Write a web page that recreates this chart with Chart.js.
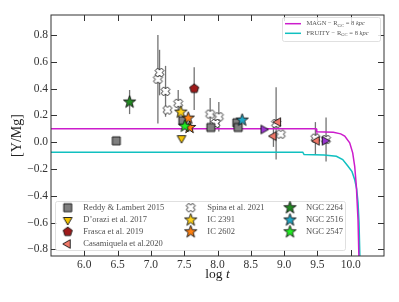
<!DOCTYPE html>
<html>
<head>
<meta charset="utf-8">
<script src="https://cdn.jsdelivr.net/npm/chart.js@4.4.0/dist/chart.umd.min.js"></script>
<style>html,body{margin:0;padding:0;background:#fff}canvas{display:block}</style>
</head>
<body>
<canvas id="chart" width="399" height="302"></canvas>
<script>
// axis ticks
const xTicks = [6.0, 6.5, 7.0, 7.5, 8.0, 8.5, 9.0, 9.5, 10.0];
const yTicks = [-0.8, -0.6, -0.4, -0.2, 0.0, 0.2, 0.4, 0.6, 0.8];

// model curves (log t, [Y/Mg])
const magnLogT = [5.5, 9.48, 9.49, 9.74, 9.85, 9.91, 9.985, 10.03, 10.06, 10.085, 10.11, 10.125];
const magnY = [0.10, 0.10, 0.078, 0.075, 0.062, 0.045, -0.005, -0.08, -0.18, -0.33, -0.58, -0.9];
const fruityLogT = [5.5, 9.28, 9.30, 9.6, 9.785, 9.88, 9.96, 10.02, 10.06, 10.09, 10.11, 10.125, 10.14];
const fruityY = [-0.075, -0.075, -0.092, -0.095, -0.105, -0.13, -0.18, -0.22, -0.28, -0.35, -0.45, -0.6, -0.9];

// observations
const reddyLogT = [6.48, 7.48, 7.90, 8.29, 8.31];
const reddyY = [0.01, 0.16, 0.11, 0.145, 0.11];
const doraziLogT = [7.46];
const doraziY = [0.03];
const frascaLogT = [7.65];
const frascaY = [0.40];
const frascaErr = [0.16];
const casaLogT = [8.91, 8.84, 9.49];
const casaY = [0.15, 0.045, 0.01];
const casaErr = [0, 0.08, 0];
const otherLogT = [8.69, 9.61];
const otherY = [0.095, 0.01];
const spinaLogT = [7.105, 7.13, 7.22, 7.25, 7.41, 7.89, 8.02, 7.97, 8.88, 8.95, 9.47, 9.63];
const spinaY = [0.47, 0.52, 0.38, 0.24, 0.29, 0.21, 0.19, 0.14, 0.14, 0.06, 0.03, 0.02];
const spinaErr = [0.33, 0.17, 0.19, 0, 0.10, 0.12, 0.11, 0, 0.27, 0, 0.12, 0.165];
const ic2391LogT = [7.45];
const ic2391Y = [0.225];
const ic2602LogT = [7.56, 7.58];
const ic2602Y = [0.18, 0.11];
const ngc2264LogT = [6.68];
const ngc2264Y = [0.30];
const ngc2264Err = [0.09];
const ngc2516LogT = [8.37];
const ngc2516Y = [0.165];
const ngc2547LogT = [7.51];
const ngc2547Y = [0.12];

const pts = (xs, ys, es) => xs.map((x, i) => ({ x: x, y: ys[i], e: es ? es[i] : 0 }));

function marker(shape, fill, size, rot) {
  const c = document.createElement('canvas');
  c.width = c.height = Math.ceil(size + 4);
  const g = c.getContext('2d');
  const cx = c.width / 2, cy = c.height / 2, r = size / 2;
  g.beginPath();
  if (shape === 'square') {
    g.rect(cx - r, cy - r, size, size);
  } else if (shape === 'star' || shape === 'pentagon') {
    const n = shape === 'star' ? 10 : 5;
    for (let i = 0; i < n; i++) {
      const a = -Math.PI / 2 + i * 2 * Math.PI / n;
      const rr = (shape === 'star' && i % 2) ? r * 0.4 : r;
      g.lineTo(cx + rr * Math.cos(a), cy + rr * Math.sin(a));
    }
  } else if (shape === 'tri') {
    for (let i = 0; i < 3; i++) {
      const a = (rot - 90) * Math.PI / 180 + i * 2 * Math.PI / 3;
      g.lineTo(cx + r * Math.cos(a), cy + r * Math.sin(a));
    }
  } else if (shape === 'x') {
    const w = r * 0.4, k = Math.SQRT1_2;
    [[-w,-r],[w,-r],[w,-w],[r,-w],[r,w],[w,w],[w,r],[-w,r],[-w,w],[-r,w],[-r,-w],[-w,-w]]
      .forEach(p => g.lineTo(cx + (p[0] - p[1]) * k, cy + (p[0] + p[1]) * k));
  }
  g.closePath();
  g.fillStyle = fill;
  g.fill();
  g.lineWidth = 0.9;
  g.strokeStyle = '#111';
  g.stroke();
  return c;
}

function obs(label, data, style) {
  return { label: label, data: data, pointStyle: style, pointRadius: 5, pointHoverRadius: 5, showLine: false, order: 0 };
}

const datasets = [
  obs('NGC 2547', pts(ngc2547LogT, ngc2547Y), marker('star', '#22ee22', 13)),
  obs('IC 2391', pts(ic2391LogT, ic2391Y), marker('star', '#ffd21a', 13)),
  obs('IC 2602', pts(ic2602LogT, ic2602Y), marker('star', '#ff8010', 13)),
  obs('NGC 2264', pts(ngc2264LogT, ngc2264Y, ngc2264Err), marker('star', '#228b22', 13)),
  obs('NGC 2516', pts(ngc2516LogT, ngc2516Y), marker('star', '#20a8c8', 13)),
  obs('Frasca et al. 2019', pts(frascaLogT, frascaY, frascaErr), marker('pentagon', '#9e1a1a', 9.5)),
  obs('D\u2019orazi et al. 2017', pts(doraziLogT, doraziY), marker('tri', '#f5c400', 10, 180)),
  obs('Casamiquela et al.2020', pts(casaLogT, casaY, casaErr), marker('tri', '#f07868', 10, -90)),
  obs('', pts(otherLogT, otherY), marker('tri', '#9a35d0', 10, 90)),
  obs('Reddy & Lambert 2015', pts(reddyLogT, reddyY), marker('square', '#808080', 8)),
  obs('Spina et al. 2021', pts(spinaLogT, spinaY, spinaErr), marker('x', '#ffffff', 9)),
  { label: 'MAGN', data: pts(magnLogT, magnY), showLine: true, borderColor: '#cc1ccc', borderWidth: 1.5, pointRadius: 0, order: 10 },
  { label: 'FRUITY', data: pts(fruityLogT, fruityY), showLine: true, borderColor: '#10c0c0', borderWidth: 1.5, pointRadius: 0, order: 10 }
];

const legendCols = [
  ['Reddy & Lambert 2015', 'D\u2019orazi et al. 2017', 'Frasca et al. 2019', 'Casamiquela et al.2020'],
  ['Spina et al. 2021', 'IC 2391', 'IC 2602'],
  ['NGC 2264', 'NGC 2516', 'NGC 2547']
];

const serif = '"Liberation Serif", "DejaVu Serif", serif';

const decor = {
  id: 'decor',
  beforeDatasetsDraw(chart) {
    const ctx = chart.ctx, x = chart.scales.x, y = chart.scales.y;
    ctx.save();
    ctx.strokeStyle = '#737373';
    ctx.lineWidth = 1.3;
    chart.data.datasets.forEach(ds => ds.data.forEach(p => {
      if (!p.e) return;
      const px = x.getPixelForValue(p.x);
      ctx.beginPath();
      ctx.moveTo(px, y.getPixelForValue(p.y - p.e));
      ctx.lineTo(px, y.getPixelForValue(p.y + p.e));
      ctx.stroke();
    }));
    ctx.restore();
  },
  afterDraw(chart) {
    const ctx = chart.ctx, a = chart.chartArea, x = chart.scales.x, y = chart.scales.y;
    ctx.save();
    // frame and inward ticks on all sides
    ctx.strokeStyle = '#333';
    ctx.lineWidth = 1;
    ctx.strokeRect(a.left, a.top, a.right - a.left, a.bottom - a.top);
    const tl = 6;
    ctx.beginPath();
    xTicks.forEach(v => {
      const px = Math.round(x.getPixelForValue(v)) + 0.5;
      ctx.moveTo(px, a.bottom); ctx.lineTo(px, a.bottom - tl);
      ctx.moveTo(px, a.top); ctx.lineTo(px, a.top + tl);
    });
    yTicks.forEach(v => {
      const py = Math.round(y.getPixelForValue(v)) + 0.5;
      ctx.moveTo(a.left, py); ctx.lineTo(a.left + tl, py);
      ctx.moveTo(a.right, py); ctx.lineTo(a.right - tl, py);
    });
    ctx.stroke();

    // axis titles
    ctx.fillStyle = '#222';
    ctx.textBaseline = 'alphabetic';
    ctx.font = '13.5px ' + serif;
    const w1 = ctx.measureText('log ').width;
    ctx.font = 'italic 13.5px ' + serif;
    const w2 = ctx.measureText('t').width;
    const cx = (a.left + a.right) / 2 - (w1 + w2) / 2;
    ctx.font = '13.5px ' + serif;
    ctx.textAlign = 'left';
    ctx.fillText('log ', cx, 278);
    ctx.font = 'italic 13.5px ' + serif;
    ctx.fillText('t', cx + w1, 278);

    ctx.save();
    ctx.translate(17, (a.top + a.bottom) / 2);
    ctx.rotate(-Math.PI / 2);
    ctx.font = '14px ' + serif;
    ctx.textAlign = 'center';
    ctx.textBaseline = 'middle';
    ctx.fillText('[Y/Mg]', 0, 0);
    ctx.restore();

    // upper legend (model curves)
    ctx.fillStyle = 'rgba(255,255,255,0.85)';
    ctx.strokeStyle = '#d8d8d8';
    ctx.lineWidth = 0.8;
    ctx.beginPath();
    ctx.roundRect(282.5, 17.5, 98, 24, 2);
    ctx.fill(); ctx.stroke();
    const models = [['MAGN', 23.7], ['FRUITY', 33.3]];
    models.forEach(m => {
      const ds = chart.data.datasets.find(d => d.label === m[0]);
      ctx.strokeStyle = ds.borderColor;
      ctx.lineWidth = 1.5;
      ctx.beginPath();
      ctx.moveTo(285, m[1]); ctx.lineTo(301, m[1]);
      ctx.stroke();
      ctx.fillStyle = '#555';
      ctx.textAlign = 'left';
      ctx.textBaseline = 'middle';
      let tx = 306.5;
      ctx.font = '6.5px ' + serif;
      const s1 = m[0] + ' \u2212 R';
      ctx.fillText(s1, tx, m[1]);
      tx += ctx.measureText(s1).width;
      ctx.font = '4.7px ' + serif;
      ctx.fillText('GC', tx, m[1] + 1.6);
      tx += ctx.measureText('GC').width;
      ctx.font = '6.5px ' + serif;
      ctx.fillText(' = 8 ', tx, m[1]);
      tx += ctx.measureText(' = 8 ').width;
      ctx.font = 'italic 6.5px ' + serif;
      ctx.fillText('kpc', tx, m[1]);
    });

    // lower legend (observations)
    ctx.fillStyle = 'rgba(255,255,255,0.85)';
    ctx.strokeStyle = '#d8d8d8';
    ctx.lineWidth = 0.8;
    ctx.beginPath();
    ctx.roundRect(55.5, 201.5, 290, 49, 2);
    ctx.fill(); ctx.stroke();
    const colMarkX = [67.7, 190.7, 290];
    const colTextX = [83.3, 207.3, 306];
    const rowY = [207.7, 220, 231.8, 244];
    ctx.font = '8.5px ' + serif;
    ctx.fillStyle = '#505050';
    ctx.textAlign = 'left';
    ctx.textBaseline = 'middle';
    legendCols.forEach((col, ci) => col.forEach((lab, ri) => {
      const ds = chart.data.datasets.find(d => d.label === lab);
      const img = ds.pointStyle;
      ctx.drawImage(img, colMarkX[ci] - img.width / 2, rowY[ri] - img.height / 2);
      ctx.fillText(lab, colTextX[ci], rowY[ri]);
    }));
    ctx.restore();
  }
};

const fmt = v => (v < 0 ? '\u2212' : '') + Math.abs(v).toFixed(1);

new Chart(document.getElementById('chart').getContext('2d'), {
  type: 'scatter',
  data: { datasets: datasets },
  options: {
    responsive: false,
    devicePixelRatio: 1,
    animation: false,
    layout: { padding: { top: 15, right: 15, left: 0, bottom: 0 } },
    plugins: { legend: { display: false }, tooltip: { enabled: false } },
    scales: {
      x: {
        type: 'linear', min: 5.5, max: 10.5,
        grid: { display: false, drawTicks: false },
        border: { display: false },
        afterBuildTicks: s => { s.ticks = xTicks.map(v => ({ value: v })); },
        afterFit: s => { s.height = 46; },
        ticks: { padding: 2, color: '#333', font: { family: serif, size: 11.5 }, callback: fmt, maxRotation: 0 }
      },
      y: {
        type: 'linear', min: -0.85, max: 0.95,
        grid: { display: false, drawTicks: false },
        border: { display: false },
        afterBuildTicks: s => { s.ticks = yTicks.map(v => ({ value: v })); },
        afterFit: s => { s.width = 51; },
        ticks: { padding: 3, color: '#333', font: { family: serif, size: 11.5 }, callback: fmt }
      }
    }
  },
  plugins: [decor]
});
</script>
</body>
</html>
